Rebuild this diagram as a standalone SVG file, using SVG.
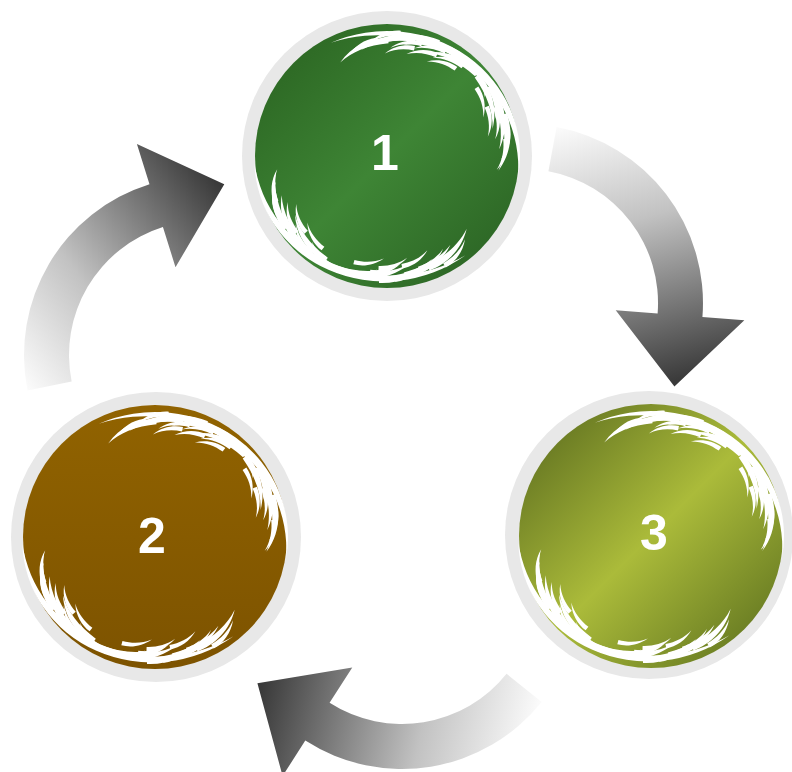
<svg xmlns="http://www.w3.org/2000/svg" xmlns:xlink="http://www.w3.org/1999/xlink" width="792" height="772" viewBox="0 0 792 772">
<style>
.ring{fill:#e8e8e8}
.num{font-family:"Liberation Sans",Arial,Helvetica,sans-serif;font-weight:bold;font-size:50px;fill:#ffffff;text-anchor:middle}
.fur{fill:#ffffff}
</style>
<defs>
<linearGradient id="gGreen" x1="0" y1="0" x2="1" y2="1">
<stop offset="0" stop-color="#28601f"/>
<stop offset="0.5" stop-color="#3e8535"/>
<stop offset="1" stop-color="#285e21"/>
</linearGradient>
<linearGradient id="gBrown" x1="0" y1="0" x2="0" y2="1">
<stop offset="0" stop-color="#916300"/>
<stop offset="1" stop-color="#7d5300"/>
</linearGradient>
<linearGradient id="gOlive" x1="0" y1="0" x2="1" y2="1">
<stop offset="0" stop-color="#55661c"/>
<stop offset="0.5" stop-color="#abbb3a"/>
<stop offset="1" stop-color="#566a1c"/>
</linearGradient>
<linearGradient id="gArrow" gradientUnits="userSpaceOnUse" x1="0" y1="-180" x2="120" y2="70">
<stop offset="0" stop-color="#fcfcfc"/>
<stop offset="0.4" stop-color="#c2c2c2"/>
<stop offset="1" stop-color="#3a3a3a"/>
</linearGradient>
<path id="arrow" fill="url(#gArrow)" d="M0,-179 A179,179 0 0 1 178,-18.7 L219.8,-23.1 L163.1,54.6 L91.5,-9.6 L133.3,-14 A134,134 0 0 0 0,-134 Z"/>
<path id="band" d="M-56.2,-113.3 A133,125 0 0 1 131,21.7 A141,133 0 0 0 -56.2,-113.3 Z"/>
<path id="hL" d="M8,-127 C-12,-128 -32,-120 -45,-103 C-32,-114 -14,-120 8,-121 Z"/>
<path id="hS" d="M5,-126 C-6,-126 -18,-121 -26,-111 C-17,-118 -6,-121 5,-121 Z"/>
<g id="hLR"><use xlink:href="#hL" transform="scale(-1,1)"/></g>
<g id="hSR"><use xlink:href="#hS" transform="scale(-1,1)"/></g>
<g id="fur" class="fur">
<use xlink:href="#band"/>
<use xlink:href="#hS" transform="rotate(-8) scale(0.94)"/>
<use xlink:href="#hL" transform="rotate(-3) scale(0.93)"/>
<use xlink:href="#hS" transform="rotate(4)"/>
<use xlink:href="#hL" transform="rotate(10) scale(0.97)"/>
<use xlink:href="#hS" transform="rotate(15) scale(0.95)"/>
<use xlink:href="#hL" transform="rotate(21)"/>
<use xlink:href="#hS" transform="rotate(27) scale(0.97)"/>
<use xlink:href="#hL" transform="rotate(32)"/>
<use xlink:href="#hS" transform="rotate(38) scale(0.95)"/>
<use xlink:href="#hL" transform="rotate(44) scale(0.98)"/>
<use xlink:href="#hS" transform="rotate(12) scale(0.9)"/>
<use xlink:href="#hS" transform="rotate(24) scale(0.91)"/>
<use xlink:href="#hS" transform="rotate(36) scale(0.9)"/>
<use xlink:href="#hSR" transform="rotate(46)"/>
<use xlink:href="#hLR" transform="rotate(52) scale(0.97)"/>
<use xlink:href="#hSR" transform="rotate(58)"/>
<use xlink:href="#hLR" transform="rotate(63)"/>
<use xlink:href="#hSR" transform="rotate(68) scale(0.96)"/>
<use xlink:href="#hLR" transform="rotate(74)"/>
<use xlink:href="#hSR" transform="rotate(79)"/>
<use xlink:href="#hSR" transform="rotate(84) scale(0.97)"/>
<use xlink:href="#hSR" transform="rotate(55) scale(0.91)"/>
<use xlink:href="#hSR" transform="rotate(66) scale(0.9)"/>
<use xlink:href="#band" transform="rotate(168)"/>
<use xlink:href="#hS" transform="rotate(150)"/>
<use xlink:href="#hL" transform="rotate(156) scale(0.96)"/>
<use xlink:href="#hS" transform="rotate(162) scale(0.95)"/>
<use xlink:href="#hL" transform="rotate(168) scale(0.97)"/>
<use xlink:href="#hS" transform="rotate(174)"/>
<use xlink:href="#hL" transform="rotate(180)"/>
<use xlink:href="#hS" transform="rotate(186) scale(0.95)"/>
<use xlink:href="#hL" transform="rotate(192) scale(0.98)"/>
<use xlink:href="#hS" transform="rotate(198)"/>
<use xlink:href="#hL" transform="rotate(204)"/>
<use xlink:href="#hS" transform="rotate(170) scale(0.9)"/>
<use xlink:href="#hS" transform="rotate(182) scale(0.91)"/>
<use xlink:href="#hS" transform="rotate(195) scale(0.9)"/>
<use xlink:href="#hSR" transform="rotate(208)"/>
<use xlink:href="#hLR" transform="rotate(214) scale(0.97)"/>
<use xlink:href="#hSR" transform="rotate(220)"/>
<use xlink:href="#hLR" transform="rotate(226)"/>
<use xlink:href="#hSR" transform="rotate(232) scale(0.96)"/>
<use xlink:href="#hLR" transform="rotate(238)"/>
<use xlink:href="#hSR" transform="rotate(244)"/>
<use xlink:href="#hSR" transform="rotate(250) scale(0.97)"/>
<use xlink:href="#hSR" transform="rotate(217) scale(0.91)"/>
<use xlink:href="#hSR" transform="rotate(229) scale(0.9)"/>
</g>
</defs>
<rect width="792" height="772" fill="#ffffff"/>
<g id="connectors">
<use id="arrow-1-3" xlink:href="#arrow" transform="translate(524,303) rotate(10.5)"/>
<use id="arrow-3-2" xlink:href="#arrow" transform="translate(402,590) rotate(128.7)"/>
<use id="arrow-2-1" xlink:href="#arrow" transform="translate(203,355) rotate(-101.4)"/>
</g>
<g id="node1">
<circle class="ring" cx="387" cy="156" r="145"/>
<circle cx="387" cy="156" r="132" fill="url(#gGreen)"/>
<use xlink:href="#fur" transform="translate(387,156)"/>
<text class="num" x="385" y="170">1</text>
</g>
<g id="node2">
<circle class="ring" cx="156" cy="537" r="145"/>
<circle cx="155" cy="537" r="132" fill="url(#gBrown)"/>
<use xlink:href="#fur" transform="translate(155,537)"/>
<text class="num" x="152" y="553">2</text>
</g>
<g id="node3">
<circle class="ring" cx="649" cy="535" r="144"/>
<circle cx="651" cy="536" r="132" fill="url(#gOlive)"/>
<use xlink:href="#fur" transform="translate(651,536)"/>
<text class="num" x="654" y="550">3</text>
</g>
</svg>
